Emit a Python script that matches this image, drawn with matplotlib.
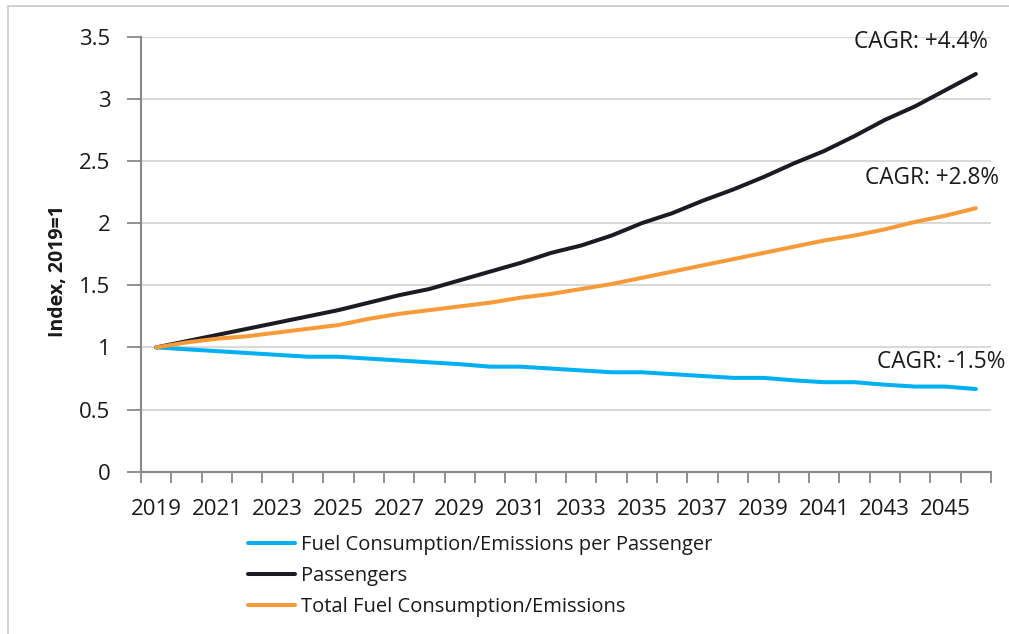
import matplotlib
matplotlib.use("Agg")
import matplotlib.pyplot as plt
from matplotlib.patches import Rectangle
from matplotlib.ticker import FixedLocator, NullFormatter

plt.rcParams["font.family"] = ["Open Sans", "DejaVu Sans"]

years = list(range(2019, 2047))

per_passenger = [1.00, 0.985, 0.97, 0.955, 0.94, 0.925, 0.925, 0.91, 0.895, 0.88,
                 0.865, 0.845, 0.845, 0.83, 0.815, 0.80, 0.80, 0.785, 0.77, 0.755,
                 0.755, 0.735, 0.72, 0.72, 0.70, 0.685, 0.685, 0.665]
passengers = [1.00, 1.05, 1.10, 1.15, 1.20, 1.25, 1.30, 1.36, 1.42, 1.47,
              1.54, 1.61, 1.68, 1.76, 1.82, 1.90, 2.00, 2.08, 2.18, 2.27,
              2.37, 2.48, 2.58, 2.70, 2.83, 2.94, 3.07, 3.20]
total_fuel = [1.00, 1.04, 1.07, 1.09, 1.12, 1.15, 1.18, 1.23, 1.27, 1.30,
              1.33, 1.36, 1.40, 1.43, 1.47, 1.51, 1.56, 1.61, 1.66, 1.71,
              1.76, 1.81, 1.86, 1.90, 1.95, 2.01, 2.06, 2.12]

series_names = ["Fuel Consumption/Emissions per Passenger", "Passengers",
                "Total Fuel Consumption/Emissions"]
series_colors = ["#00B0F0", "#1B1B24", "#F79A3A"]
cagr_labels = ["CAGR: -1.5%", "CAGR: +4.4%", "CAGR: +2.8%"]
y_ticks = [0, 0.5, 1, 1.5, 2, 2.5, 3, 3.5]
y_tick_labels = ["0", "0.5", "1", "1.5", "2", "2.5", "3", "3.5"]

W, H = 1009, 634
fig = plt.figure(figsize=(W / 100, H / 100), dpi=100)

# outer chart frame
fig.add_artist(Rectangle((8 / W, -0.05), 1.2, 1 - 6 / H + 0.05,
                         transform=fig.transFigure, fill=False,
                         edgecolor="#C8C8C8", linewidth=1.2))

ax = fig.add_axes([141 / W, 1 - 471.7 / H, (991 - 141) / W, (471.7 - 36.7) / H])

x = list(range(len(years)))
lines = []
for vals, name, col in zip([per_passenger, passengers, total_fuel], series_names, series_colors):
    ln, = ax.plot(x, vals, color=col, linewidth=2.9, solid_capstyle="round",
                  solid_joinstyle="round", label=name, zorder=3)
    lines.append(ln)

ax.set_xlim(-0.5, len(years) - 0.5)
ax.set_ylim(0, 3.5)

# category labels every other year, tick marks between categories
ax.set_xticks(x[::2])
ax.set_xticklabels([str(y) for y in years[::2]])
ax.xaxis.set_minor_locator(FixedLocator([i - 0.5 for i in range(len(years) + 1)]))
ax.xaxis.set_minor_formatter(NullFormatter())
ax.tick_params(axis="x", which="major", length=0, pad=20, labelsize=16, labelcolor="#1A1A1A")
ax.tick_params(axis="x", which="minor", length=8, width=1.3, color="#888888", direction="out")

ax.set_yticks(y_ticks)
ax.set_yticklabels(y_tick_labels)
ax.tick_params(axis="y", length=10, width=1.3, color="#888888", pad=12,
               labelsize=16, labelcolor="#1A1A1A")

ax.grid(axis="y", color="#D9D9D9", linewidth=1.5, zorder=0)
ax.set_axisbelow(True)
for side in ["top", "right"]:
    ax.spines[side].set_visible(False)
for side in ["left", "bottom"]:
    ax.spines[side].set_color("#888888")
    ax.spines[side].set_linewidth(1.5)

fig.text(58 / W, 1 - 271 / H, "Index, 2019=1", rotation=90, ha="center", va="center",
         fontsize=14, fontweight="bold", color="#1A1A1A")

# growth-rate annotations near the line ends
ax.text(22.99, 3.455, cagr_labels[1], fontsize=16.3, color="#1A1A1A", va="center", ha="left")
ax.text(23.35, 2.36, cagr_labels[2], fontsize=16.3, color="#1A1A1A", va="center", ha="left")
ax.text(23.74, 0.885, cagr_labels[0], fontsize=16.3, color="#1A1A1A", va="center", ha="left")

leg = fig.legend(handles=lines, labels=series_names, loc="upper left",
                 bbox_to_anchor=(240 / W, 1 - 527 / H), frameon=False,
                 fontsize=14.5, handlelength=2.35, handletextpad=0.3,
                 labelspacing=0.55, borderaxespad=0)
for t in leg.get_texts():
    t.set_color("#1A1A1A")

fig.savefig("out.png", dpi=100)
